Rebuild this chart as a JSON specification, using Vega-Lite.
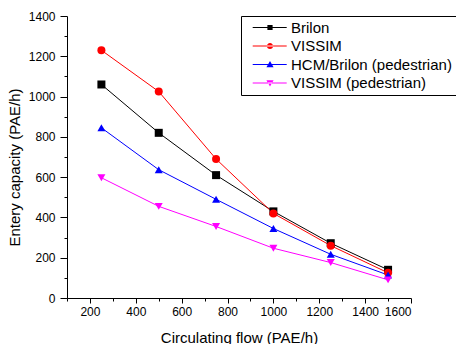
{
  "$schema": "https://vega.github.io/schema/vega-lite/v6.json",
  "width": 344,
  "height": 282,
  "autosize": {"type": "none"},
  "padding": {"left": 67, "top": 16, "right": 45, "bottom": 46},
  "background": "white",
  "config": {
    "view": {"stroke": null},
    "font": "Liberation Sans",
    "axis": {
      "grid": false,
      "domainColor": "black",
      "domainWidth": 1,
      "tickColor": "black",
      "tickWidth": 1,
      "labelColor": "black",
      "labelFont": "Liberation Sans",
      "labelFontSize": 12,
      "titleColor": "black",
      "titleFont": "Liberation Sans",
      "titleFontSize": 15,
      "titleFontWeight": "normal"
    }
  },
  "data": {
    "values": [
      {"series": "Brilon", "flow": 250, "cap": 1060},
      {"series": "Brilon", "flow": 500, "cap": 820},
      {"series": "Brilon", "flow": 750, "cap": 610},
      {"series": "Brilon", "flow": 1000, "cap": 430},
      {"series": "Brilon", "flow": 1250, "cap": 272},
      {"series": "Brilon", "flow": 1500, "cap": 140},
      {"series": "VISSIM", "flow": 250, "cap": 1230},
      {"series": "VISSIM", "flow": 500, "cap": 1025},
      {"series": "VISSIM", "flow": 750, "cap": 690},
      {"series": "VISSIM", "flow": 1000, "cap": 420},
      {"series": "VISSIM", "flow": 1250, "cap": 260},
      {"series": "VISSIM", "flow": 1500, "cap": 125},
      {"series": "HCM/Brilon (pedestrian)", "flow": 250, "cap": 845},
      {"series": "HCM/Brilon (pedestrian)", "flow": 500, "cap": 637},
      {"series": "HCM/Brilon (pedestrian)", "flow": 750, "cap": 490},
      {"series": "HCM/Brilon (pedestrian)", "flow": 1000, "cap": 345},
      {"series": "HCM/Brilon (pedestrian)", "flow": 1250, "cap": 217},
      {"series": "HCM/Brilon (pedestrian)", "flow": 1500, "cap": 114},
      {"series": "VISSIM (pedestrian)", "flow": 250, "cap": 597},
      {"series": "VISSIM (pedestrian)", "flow": 500, "cap": 455},
      {"series": "VISSIM (pedestrian)", "flow": 750, "cap": 355},
      {"series": "VISSIM (pedestrian)", "flow": 1000, "cap": 247},
      {"series": "VISSIM (pedestrian)", "flow": 1250, "cap": 176},
      {"series": "VISSIM (pedestrian)", "flow": 1500, "cap": 90}
    ]
  },
  "encoding": {
    "x": {
      "field": "flow", "type": "quantitative",
      "scale": {"domain": [100, 1600], "nice": false, "zero": false},
      "axis": {
        "values": [100, 200, 300, 400, 500, 600, 700, 800, 900, 1000, 1100, 1200, 1300, 1400, 1500, 1600],
        "format": "d",
        "labelExpr": "datum.value % 200 === 0 ? datum.label : ''",
        "tickSize": {"condition": {"test": "datum.value % 200 === 0", "value": 5}, "value": 3},
        "labelPadding": 3,
        "labelOverlap": false,
        "title": "Circulating flow (PAE/h)",
        "titleY": 44.5,
        "titleBaseline": "alphabetic"
      }
    },
    "y": {
      "field": "cap", "type": "quantitative",
      "scale": {"domain": [0, 1400], "nice": false},
      "axis": {
        "values": [0, 100, 200, 300, 400, 500, 600, 700, 800, 900, 1000, 1100, 1200, 1300, 1400],
        "format": "d",
        "labelExpr": "datum.value % 200 === 0 ? datum.label : ''",
        "tickSize": {"condition": {"test": "datum.value % 200 === 0", "value": 7}, "value": 3},
        "labelPadding": 5,
        "labelOverlap": false,
        "title": "Entery capacity (PAE/h)",
        "titleX": -48,
        "titleY": 151,
        "titleBaseline": "alphabetic"
      }
    }
  },
  "layer": [
    {
      "mark": {"type": "line", "strokeWidth": 1},
      "encoding": {
        "color": {
          "field": "series", "type": "nominal",
          "scale": {
            "domain": ["Brilon", "VISSIM", "HCM/Brilon (pedestrian)", "VISSIM (pedestrian)"],
            "range": ["#000000", "#ff0000", "#0000ff", "#ff00ff"]
          },
          "legend": null
        },
        "order": {"field": "flow", "type": "quantitative"}
      }
    },
    {
      "mark": {"type": "point", "filled": true, "opacity": 1, "strokeWidth": 0, "size": 64},
      "encoding": {
        "color": {"field": "series", "type": "nominal", "legend": null},
        "shape": {
          "field": "series", "type": "nominal",
          "scale": {
            "domain": ["Brilon", "VISSIM", "HCM/Brilon (pedestrian)", "VISSIM (pedestrian)"],
            "range": ["square", "circle", "triangle-up", "triangle-down"]
          },
          "legend": null
        }
      }
    },
    {
      "transform": [{"filter": "false"}],
      "mark": {"type": "point", "filled": true, "opacity": 1, "strokeWidth": 0, "size": 64},
      "encoding": {
        "color": {
          "field": "series", "type": "nominal",
          "legend": {
            "orient": "none",
            "legendX": 174,
            "legendY": 0,
            "title": null,
            "padding": 4,
            "strokeColor": "black",
            "fillColor": "white",
            "labelFont": "Liberation Sans",
            "labelFontSize": 15,
            "labelColor": "black",
            "labelLimit": 400,
            "symbolSize": 64,
            "symbolStrokeWidth": 0,
            "symbolOffset": 0,
            "labelOffset": 31,
            "rowPadding": 2.5
          }
        },
        "shape": {
          "field": "series", "type": "nominal",
          "scale": {
            "domain": ["Brilon", "VISSIM", "HCM/Brilon (pedestrian)", "VISSIM (pedestrian)"],
            "range": [
              "M0.05,-0.125H8.55V0.125H0.05Z M3.725,-0.65H5.025V0.65H3.725Z",
              "M0.05,-0.125H8.55V0.125H0.05Z M3.595,0A0.78,0.78 0 1,0 5.155,0A0.78,0.78 0 1,0 3.595,0Z",
              "M0.05,-0.125H8.55V0.125H0.05Z M4.375,-0.85L5.275,0.7H3.475Z",
              "M0.05,-0.125H8.55V0.125H0.05Z M4.375,0.85L5.275,-0.7H3.475Z"
            ]
          }
        }
      }
    }
  ],
  "resolve": {
    "scale": {"shape": "independent"},
    "legend": {"color": "independent", "shape": "independent"}
  }
}
